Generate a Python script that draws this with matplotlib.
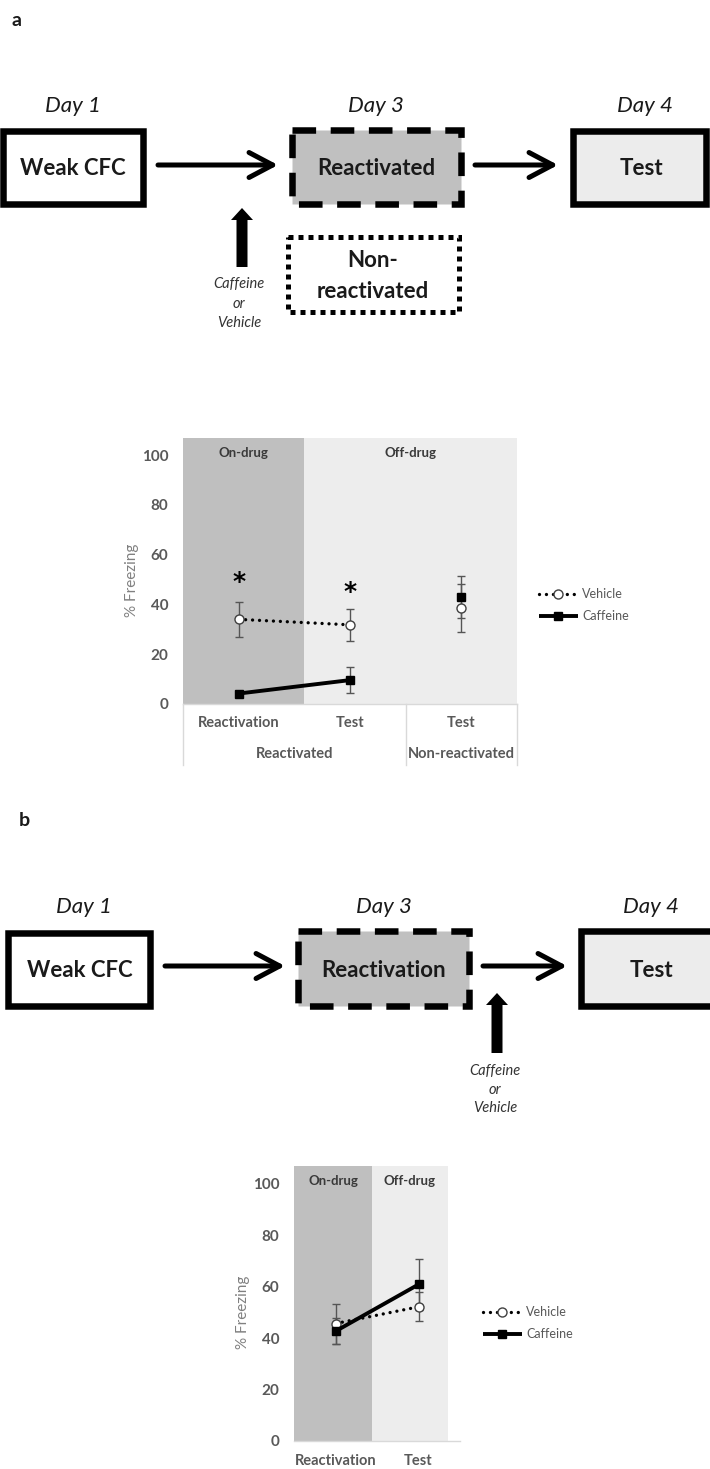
import matplotlib
matplotlib.use('Agg')
import matplotlib.pyplot as plt
from matplotlib.patches import Rectangle, FancyArrow
from matplotlib.lines import Line2D

plt.rcParams['font.family'] = ['Lato', 'DejaVu Sans']
plt.rcParams['lines.scale_dashes'] = False

W, H = 710, 1469

# ---------------- data ----------------
y_ticks = [0, 20, 40, 60, 80, 100]
series_names = ['Vehicle', 'Caffeine']
phase_labels = ['On-drug', 'Off-drug']
y_label = '% Freezing'

a_categories = ['Reactivation', 'Test', 'Test']
a_groups = ['Reactivated', 'Non-reactivated']
a_group_sizes = [2, 1]
a_vehicle = [34.0, 31.8, 38.6]
a_vehicle_err = [7.0, 6.4, 9.6]
a_caffeine = [4.2, 9.6, 43.0]
a_caffeine_err = [1.0, 5.3, 8.6]
a_star_cats = [0, 1]
a_star_y = [50.6, 46.6]

b_categories = ['Reactivation', 'Test']
b_vehicle = [45.7, 52.2]
b_vehicle_err = [7.8, 5.6]
b_caffeine = [42.7, 60.9]
b_caffeine_err = [5.0, 10.1]

fig = plt.figure(figsize=(W / 100, H / 100), dpi=100)
fig.patch.set_facecolor('white')

# ---------------- schematic layer (pixel coordinates) ----------------
bg = fig.add_axes([0, 0, 1, 1], zorder=-1)
bg.set_xlim(0, W)
bg.set_ylim(H, 0)
bg.axis('off')


def box(x0, y0, x1, y1, fill='white', ls='solid', lw_px=6.5):
    lw = lw_px * 0.72
    r = Rectangle((x0 + lw_px / 2, y0 + lw_px / 2), x1 - x0 - lw_px, y1 - y0 - lw_px,
                  facecolor=fill, edgecolor='black', linewidth=lw, linestyle=ls,
                  joinstyle='miter', capstyle='butt')
    bg.add_patch(r)


dashed = (0, (17, 10.5))
dotted = (0, (3.6, 3.6))


def chevron(x0, x1, y):
    bg.annotate('', xy=(x1, y), xytext=(x0, y),
                arrowprops=dict(arrowstyle='->,head_length=0.85,head_width=0.45',
                                lw=3.6, color='black', shrinkA=0, shrinkB=0,
                                mutation_scale=20))


def up_arrow(x, ybot, ytop):
    bg.add_patch(FancyArrow(x, ybot, 0, ytop - ybot, width=11, head_width=22,
                            head_length=12, length_includes_head=True,
                            color='black', lw=0))


def label(x, y, s, size=16, weight='normal', style='normal', color='#1a1a1a', ha='center'):
    bg.text(x, y, s, fontsize=size, fontweight=weight, fontstyle=style, color=color,
            ha=ha, va='center')


# panel a schematic
label(11, 20, 'a', size=14, weight='bold', ha='left')
for x, d in [(73, 'Day 1'), (376, 'Day 3'), (645, 'Day 4')]:
    label(x, 106, d, style='italic')
box(0, 128, 146, 207)
box(289, 127, 464, 207, fill='#c0c0c0', ls=dashed)
box(570, 128, 709, 207, fill='#ececec')
box(285, 234, 461, 314, ls=dotted, lw_px=5)
label(73, 168, 'Weak CFC', weight='bold')
label(376, 168, 'Reactivated', weight='bold')
label(641, 168, 'Test', weight='bold')
label(373, 260, 'Non-', weight='bold')
label(373, 291, 'reactivated', weight='bold')
chevron(158, 278, 165)
chevron(475, 558, 165)
up_arrow(242, 267, 208)
for y, s in [(284, 'Caffeine'), (304, 'or'), (323, 'Vehicle')]:
    label(239, y, s, size=10.5, style='italic', color='#333333')

# panel b schematic
label(19, 820, 'b', size=14, weight='bold', ha='left')
for x, d in [(84, 'Day 1'), (384, 'Day 3'), (651, 'Day 4')]:
    label(x, 907, d, style='italic')
box(5, 930, 153, 1009)
box(295, 928, 472, 1009, fill='#c0c0c0', ls=dashed)
box(578, 928, 740, 1009, fill='#ececec')
label(80, 970, 'Weak CFC', weight='bold')
label(384, 970, 'Reactivation', weight='bold')
label(651, 970, 'Test', weight='bold')
chevron(165, 285, 966)
chevron(483, 567, 966)
up_arrow(497, 1053, 993)
for y, s in [(1071, 'Caffeine'), (1090, 'or'), (1108, 'Vehicle')]:
    label(495, y, s, size=10.5, style='italic', color='#333333')


# ---------------- charts ----------------
def px_axes(left, top, right, bottom):
    return fig.add_axes([left / W, 1 - bottom / H, (right - left) / W, (bottom - top) / H])


veh_style = dict(color='black', lw=2.4, linestyle=(0, (0.01, 5.0)), dash_capstyle='round')
veh_marker = dict(marker='o', mfc='white', mec='#404040', ms=6.5, mew=1.0, linestyle='none')
caf_style = dict(color='black', lw=2.8, solid_capstyle='butt')
caf_marker = dict(marker='s', mfc='black', mec='black', ms=6, linestyle='none')


def draw_chart(ax, cats, veh, veh_err, caf, caf_err, n_conn, on_end, off_end,
               ylabel_xy, legend_px, cat_off_pt):
    n = len(cats)
    xs = list(range(n))
    ax.set_xlim(-0.5, n - 0.5)
    ax.set_ylim(0, 107)
    ax.axvspan(-0.5, on_end, color='#bfbfbf', lw=0, zorder=0)
    ax.axvspan(on_end, off_end, color='#ededed', lw=0, zorder=0)
    ax.text((-0.5 + on_end) / 2, 101, phase_labels[0], ha='center', va='center',
            fontsize=9.5, fontweight='bold', color='#3a3a3a')
    ax.text((on_end + off_end) / 2, 101, phase_labels[1], ha='center', va='center',
            fontsize=9.5, fontweight='bold', color='#3a3a3a')

    ax.errorbar(xs, veh, yerr=veh_err, fmt='none', ecolor='#555555', elinewidth=1,
                capsize=3, capthick=1, zorder=2)
    ax.errorbar(xs, caf, yerr=caf_err, fmt='none', ecolor='#555555', elinewidth=1,
                capsize=3, capthick=1, zorder=2)
    ax.plot(xs[:n_conn], veh[:n_conn], zorder=3, **veh_style)
    ax.plot(xs, veh, zorder=4, **veh_marker)
    ax.plot(xs[:n_conn], caf[:n_conn], zorder=5, **caf_style)
    ax.plot(xs, caf, zorder=6, **caf_marker)

    ax.set_yticks(y_ticks)
    ax.tick_params(axis='y', length=0, pad=10.5, labelsize=11, labelcolor='#595959')
    for t in ax.get_yticklabels():
        t.set_fontweight('bold')
    ax.set_xticks([])
    for s in ['left', 'right', 'top']:
        ax.spines[s].set_visible(False)
    ax.spines['bottom'].set_color('#d9d9d9')
    ax.spines['bottom'].set_linewidth(1)
    ax.patch.set_alpha(0)

    for i, c in enumerate(cats):
        ax.annotate(c, xy=(i, 0), xycoords='data', xytext=(0, -cat_off_pt),
                    textcoords='offset points', ha='center', va='center',
                    fontsize=10.5, fontweight='bold', color='#595959', annotation_clip=False)

    ax.text(ylabel_xy[0], ylabel_xy[1], y_label, transform=ax.transAxes, rotation=90,
            ha='center', va='center', fontsize=11, color='#808080')

    handles = [Line2D([], [], **{**veh_style, **{k: v for k, v in veh_marker.items() if k != 'linestyle'}}),
               Line2D([], [], **{**caf_style, **{k: v for k, v in caf_marker.items() if k != 'linestyle'}})]
    ax.legend(handles, series_names, loc='center left',
              bbox_to_anchor=(legend_px[0] / W, 1 - legend_px[1] / H),
              bbox_transform=fig.transFigure, frameon=False, fontsize=9,
              handlelength=3.1, handletextpad=0.35, labelspacing=0.8,
              borderaxespad=0, borderpad=0, numpoints=1, labelcolor='#595959')


# Panel a chart
axA = px_axes(183, 437.6, 517, 704)
draw_chart(axA, a_categories, a_vehicle, a_vehicle_err, a_caffeine, a_caffeine_err,
           n_conn=2, on_end=0.59, off_end=2.5, ylabel_xy=(-0.153, 0.466),
           legend_px=(539, 605), cat_off_pt=13.7)
# group level of the category axis
start = -0.5
bounds = [start]
for g, size in zip(a_groups, a_group_sizes):
    end = start + size
    axA.annotate(g, xy=((start + end) / 2, 0), xycoords='data', xytext=(0, -36),
                 textcoords='offset points', ha='center', va='center', fontsize=10.5,
                 fontweight='bold', color='#595959', annotation_clip=False)
    bounds.append(end)
    start = end
for xb in bounds:
    axA.plot([xb, xb], [0, -24.5], color='#d9d9d9', lw=1, clip_on=False, zorder=1)
for c, yv in zip(a_star_cats, a_star_y):
    axA.annotate('*', xy=(c, yv), xytext=(0, -3), textcoords='offset points',
                 ha='center', va='center', fontsize=18, fontweight='bold',
                 color='black', family='DejaVu Sans')

# Panel b chart
axB = px_axes(294, 1166, 460, 1441)
draw_chart(axB, b_categories, b_vehicle, b_vehicle_err, b_caffeine, b_caffeine_err,
           n_conn=2, on_end=0.44, off_end=1.355, ylabel_xy=(-0.307, 0.469),
           legend_px=(483, 1323), cat_off_pt=14.4)

fig.savefig('out.png', dpi=100, facecolor='white')
